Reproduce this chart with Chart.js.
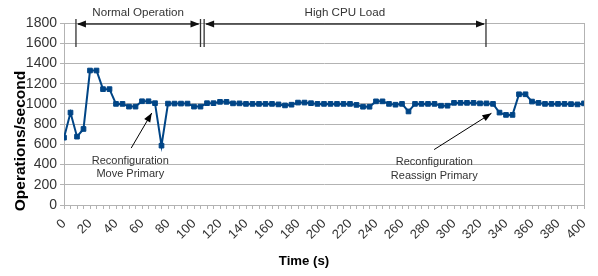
<!DOCTYPE html>
<html>
<head>
<meta charset="utf-8">
<script src="https://cdn.jsdelivr.net/npm/chart.js@4.4.1/dist/chart.umd.min.js"></script>
<style>
  html, body { margin: 0; padding: 0; background: #ffffff; }
  #chartBox { width: 598px; height: 276px; }
</style>
</head>
<body>
<div id="chartBox"><canvas id="opsChart" width="598" height="276"></canvas></div>
<script>
// Sample times (s)
const timeSeconds = [
    0, 5, 10, 15, 20, 25, 30, 35, 40, 45,
    50, 55, 60, 65, 70, 75, 80, 85, 90, 95,
    100, 105, 110, 115, 120, 125, 130, 135, 140, 145,
    150, 155, 160, 165, 170, 175, 180, 185, 190, 195,
    200, 205, 210, 215, 220, 225, 230, 235, 240, 245,
    250, 255, 260, 265, 270, 275, 280, 285, 290, 295,
    300, 305, 310, 315, 320, 325, 330, 335, 340, 345,
    350, 355, 360, 365, 370, 375, 380, 385, 390, 395,
    400
];
// Throughput (operations/second)
const opsPerSecond = [
    666, 914, 676, 752, 1330, 1330, 1146, 1146, 1000, 1000,
    973, 973, 1026, 1026, 1007, 587, 1003, 1003, 1003, 1003,
    973, 973, 1007, 1007, 1020, 1020, 1005, 1005, 1000, 1000,
    1000, 1000, 1000, 995, 985, 992, 1013, 1013, 1007, 1000,
    1000, 1000, 1000, 1000, 1000, 990, 972, 972, 1025, 1025,
    1000, 992, 1000, 925, 1000, 1000, 1000, 1000, 982, 982,
    1010, 1010, 1010, 1010, 1005, 1005, 1000, 914, 891, 891,
    1095, 1095, 1023, 1010, 1000, 1000, 1000, 1000, 998, 995,
    1005
];
const xTickLabels = [0, 20, 40, 60, 80, 100, 120, 140, 160, 180, 200, 220, 240, 260, 280, 300, 320, 340, 360, 380, 400];
const yTickValues = [0, 200, 400, 600, 800, 1000, 1200, 1400, 1600, 1800];

// Phase brackets along the top (times in s)
const phaseNames = ["Normal Operation", "High CPU Load"];
const phaseStart = [9.2, 107.8];
const phaseEnd = [105, 324.6];
const phaseLabelAt = [57, 216];

// Reconfiguration callouts
const calloutLines = [["Reconfiguration", "Move Primary"], ["Reconfiguration", "Reassign Primary"]];
const calloutTextAt = [[51, 438], [284.8, 424]];
const calloutFrom = [[51.7, 563], [284.7, 548]];
const calloutTo = [[67.5, 910], [328.8, 907]];

const gridGray = "#b3b3b3";
const textGray = "#333333";
const seriesBlue = "#004586";

function arrowHead(ctx, x, y, angle, len, half) {
    ctx.save();
    ctx.translate(x, y);
    ctx.rotate(angle);
    ctx.beginPath();
    ctx.moveTo(0, 0);
    ctx.lineTo(-len, -half);
    ctx.lineTo(-len, half);
    ctx.closePath();
    ctx.fill();
    ctx.restore();
}

const annotations = {
    id: "annotations",
    afterDraw(chart) {
        const ctx = chart.ctx;
        const xs = chart.scales.x;
        const ys = chart.scales.y;
        ctx.save();

        // phase brackets
        const barTop = ys.getPixelForValue(1840);
        const barBottom = ys.getPixelForValue(1563);
        const lineY = ys.getPixelForValue(1790);
        ctx.strokeStyle = textGray;
        ctx.fillStyle = "#111111";
        ctx.lineWidth = 1.3;
        phaseNames.forEach((name, i) => {
            const x0 = xs.getPixelForValue(phaseStart[i]);
            const x1 = xs.getPixelForValue(phaseEnd[i]);
            ctx.beginPath();
            ctx.moveTo(x0, barTop); ctx.lineTo(x0, barBottom);
            ctx.moveTo(x1, barTop); ctx.lineTo(x1, barBottom);
            ctx.moveTo(x0 + 2, lineY); ctx.lineTo(x1 - 2, lineY);
            ctx.stroke();
            arrowHead(ctx, x0 + 1, lineY, Math.PI, 9, 3.5);
            arrowHead(ctx, x1 - 1, lineY, 0, 9, 3.5);
            ctx.fillStyle = textGray;
            ctx.font = "11.6px 'Liberation Sans', Arial, sans-serif";
            ctx.textAlign = "center";
            ctx.textBaseline = "middle";
            ctx.fillText(name, xs.getPixelForValue(phaseLabelAt[i]), ys.getPixelForValue(1905));
            ctx.fillStyle = "#111111";
        });

        // callouts
        calloutLines.forEach((lines, i) => {
            const fx = xs.getPixelForValue(calloutFrom[i][0]);
            const fy = ys.getPixelForValue(calloutFrom[i][1]);
            const tx = xs.getPixelForValue(calloutTo[i][0]);
            const ty = ys.getPixelForValue(calloutTo[i][1]);
            ctx.strokeStyle = "#000000";
            ctx.fillStyle = "#000000";
            ctx.lineWidth = 1;
            ctx.beginPath();
            ctx.moveTo(fx, fy);
            ctx.lineTo(tx, ty);
            ctx.stroke();
            arrowHead(ctx, tx, ty, Math.atan2(ty - fy, tx - fx), 9, 3.5);
            ctx.fillStyle = textGray;
            ctx.font = "11px 'Liberation Sans', Arial, sans-serif";
            ctx.textAlign = "center";
            ctx.textBaseline = "middle";
            const cx = xs.getPixelForValue(calloutTextAt[i][0]);
            const cy = ys.getPixelForValue(calloutTextAt[i][1]);
            lines.forEach((txt, j) => ctx.fillText(txt, cx, cy + j * 13.6));
        });

        // axis titles
        ctx.fillStyle = "#000000";
        ctx.font = "bold 13.2px 'Liberation Sans', Arial, sans-serif";
        ctx.textAlign = "center";
        ctx.textBaseline = "middle";
        ctx.fillText("Time (s)", 304, 261);
        ctx.translate(21, 141);
        ctx.rotate(-Math.PI / 2);
        ctx.font = "bold 15.5px 'Liberation Sans', Arial, sans-serif";
        ctx.fillText("Operations/second", 0, 0);
        ctx.restore();
    }
};

new Chart("opsChart", {
    type: "line",
    data: {
        datasets: [{
            label: "Operations/second",
            data: timeSeconds.map((t, i) => ({ x: t, y: opsPerSecond[i] })),
            borderColor: seriesBlue,
            backgroundColor: seriesBlue,
            borderWidth: 2,
            pointStyle: "rect",
            pointRadius: 3.3,
            pointBorderWidth: 1,
            pointBorderColor: seriesBlue,
            pointBackgroundColor: seriesBlue,
            tension: 0
        }]
    },
    options: {
        responsive: false,
        animation: false,
        devicePixelRatio: 1,
        layout: { padding: { left: 0, right: 14, top: 23, bottom: 0 } },
        plugins: { legend: { display: false }, tooltip: { enabled: false } },
        scales: {
            x: {
                type: "linear",
                min: 0,
                max: 400,
                afterFit: scale => {
                    scale.height = 71;
                    scale.paddingLeft = 0;
                    scale.paddingRight = 0;
                },
                border: { color: gridGray, width: 1 },
                grid: {
                    drawOnChartArea: true,
                    color: c => (c.tick && c.tick.value === 400 ? gridGray : "rgba(0,0,0,0)"),
                    tickColor: gridGray,
                    tickLength: 4
                },
                ticks: {
                    stepSize: 5,
                    autoSkip: false,
                    minRotation: 45,
                    maxRotation: 45,
                    padding: 7,
                    color: textGray,
                    font: { family: "'Liberation Sans', Arial, sans-serif", size: 13 },
                    callback: v => (xTickLabels.includes(v) ? String(v) : "")
                }
            },
            y: {
                min: 0,
                max: 1800,
                afterFit: scale => { scale.width = 64; },
                afterBuildTicks: scale => { scale.ticks = yTickValues.map(v => ({ value: v })); },
                border: { color: gridGray, width: 1 },
                grid: { color: gridGray, tickColor: gridGray, tickLength: 4 },
                ticks: {
                    padding: 3,
                    color: textGray,
                    font: { family: "'Liberation Sans', Arial, sans-serif", size: 14 },
                    callback: v => String(v)
                }
            }
        }
    },
    plugins: [annotations]
});
</script>
</body>
</html>
